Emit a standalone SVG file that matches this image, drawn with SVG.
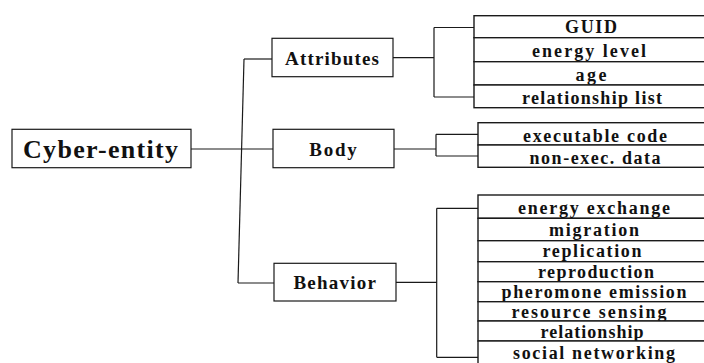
<svg xmlns="http://www.w3.org/2000/svg" width="704" height="363" viewBox="0 0 704 363">
  <style>
    .box { fill: #fff; stroke: #1a1a1a; stroke-width: 1.2; }
    .row { fill: #fff; stroke: #1a1a1a; stroke-width: 1.4; }
    .wire { fill: none; stroke: #1a1a1a; stroke-width: 1.2; }
    text { font-family: "Liberation Serif", "Times New Roman", serif; font-weight: bold; fill: #111; text-anchor: middle; }
    .root { font-size: 26px; }
    .mid { font-size: 19px; }
    .leaf { font-size: 18px; }
  </style>
  <rect width="704" height="363" fill="#fff"/>

  <!-- connectors -->
  <g id="connectors" class="wire">
    <path d="M191 149 H273"/>
    <path d="M244 59 L238 283"/>
    <path d="M244 59 H272"/>
    <path d="M238 283 H274"/>
    <path d="M393 57.7 H434 M434 27.5 V97 M434 27.5 H474 M434 97 H474"/>
    <path d="M394 149 H436 M436 134.3 V156 M436 134.3 H478 M436 156 H478"/>
    <path d="M396 282.3 H436.7 M436.7 208.3 V357.3 M436.7 208.3 H478 M436.7 357.3 H478"/>
  </g>

  <!-- root -->
  <g id="cyber-entity">
    <rect class="box" x="12" y="129.3" width="179" height="38.4"/>
    <text class="root" x="100.5" y="157.7" textLength="155" lengthAdjust="spacing">Cyber-entity</text>
  </g>

  <!-- second level -->
  <g id="attributes">
    <rect class="box" x="272" y="38.3" width="121" height="38.4"/>
    <text class="mid" x="332" y="65" textLength="94" lengthAdjust="spacing">Attributes</text>
  </g>
  <g id="body">
    <rect class="box" x="273" y="129.3" width="121" height="38.4"/>
    <text class="mid" x="333" y="156" textLength="47.5" lengthAdjust="spacing">Body</text>
  </g>
  <g id="behavior">
    <rect class="box" x="274" y="263.3" width="122" height="37.7"/>
    <text class="mid" x="334.7" y="289" textLength="82.5" lengthAdjust="spacing">Behavior</text>
  </g>

  <!-- attribute items -->
  <g id="guid">
    <rect class="row" x="474" y="15.7" width="240" height="22"/>
    <text class="leaf" x="591" y="33.3" textLength="52" lengthAdjust="spacing">GUID</text>
  </g>
  <g id="energy-level">
    <rect class="row" x="474" y="37.7" width="240" height="24"/>
    <text class="leaf" x="589" y="56.7" textLength="114" lengthAdjust="spacing">energy level</text>
  </g>
  <g id="age">
    <rect class="row" x="474" y="61.7" width="240" height="23.3"/>
    <text class="leaf" x="591" y="81" textLength="31" lengthAdjust="spacing">age</text>
  </g>
  <g id="relationship-list">
    <rect class="row" x="474" y="85" width="240" height="22.7"/>
    <text class="leaf" x="592" y="104.3" textLength="140" lengthAdjust="spacing">relationship list</text>
  </g>

  <!-- body items -->
  <g id="executable-code">
    <rect class="row" x="478" y="122.7" width="240" height="22.3"/>
    <text class="leaf" x="595" y="142.3" textLength="144" lengthAdjust="spacing">executable code</text>
  </g>
  <g id="non-exec-data">
    <rect class="row" x="478" y="145" width="240" height="22.3"/>
    <text class="leaf" x="595" y="164" textLength="131" lengthAdjust="spacing">non-exec. data</text>
  </g>

  <!-- behavior items -->
  <g id="energy-exchange">
    <rect class="row" x="478" y="195" width="240" height="23.3"/>
    <text class="leaf" x="594" y="214" textLength="152" lengthAdjust="spacing">energy exchange</text>
  </g>
  <g id="migration">
    <rect class="row" x="478" y="218.3" width="240" height="22.4"/>
    <text class="leaf" x="594" y="236" textLength="90" lengthAdjust="spacing">migration</text>
  </g>
  <g id="replication">
    <rect class="row" x="478" y="240.7" width="240" height="21"/>
    <text class="leaf" x="592" y="257.3" textLength="99" lengthAdjust="spacing">replication</text>
  </g>
  <g id="reproduction">
    <rect class="row" x="478" y="261.7" width="240" height="20"/>
    <text class="leaf" x="596" y="278" textLength="116" lengthAdjust="spacing">reproduction</text>
  </g>
  <g id="pheromone-emission">
    <rect class="row" x="478" y="281.7" width="240" height="20"/>
    <text class="leaf" x="594" y="298.3" textLength="185" lengthAdjust="spacing">pheromone emission</text>
  </g>
  <g id="resource-sensing">
    <rect class="row" x="478" y="301.7" width="240" height="19.3"/>
    <text class="leaf" x="589" y="317.7" textLength="155" lengthAdjust="spacing">resource sensing</text>
  </g>
  <g id="relationship">
    <rect class="row" x="478" y="321" width="240" height="20"/>
    <text class="leaf" x="592" y="337.5" textLength="103" lengthAdjust="spacing">relationship</text>
  </g>
  <g id="social-networking">
    <rect class="row" x="478" y="341" width="240" height="32"/>
    <text class="leaf" x="594" y="359" textLength="162" lengthAdjust="spacing">social networking</text>
  </g>
</svg>
